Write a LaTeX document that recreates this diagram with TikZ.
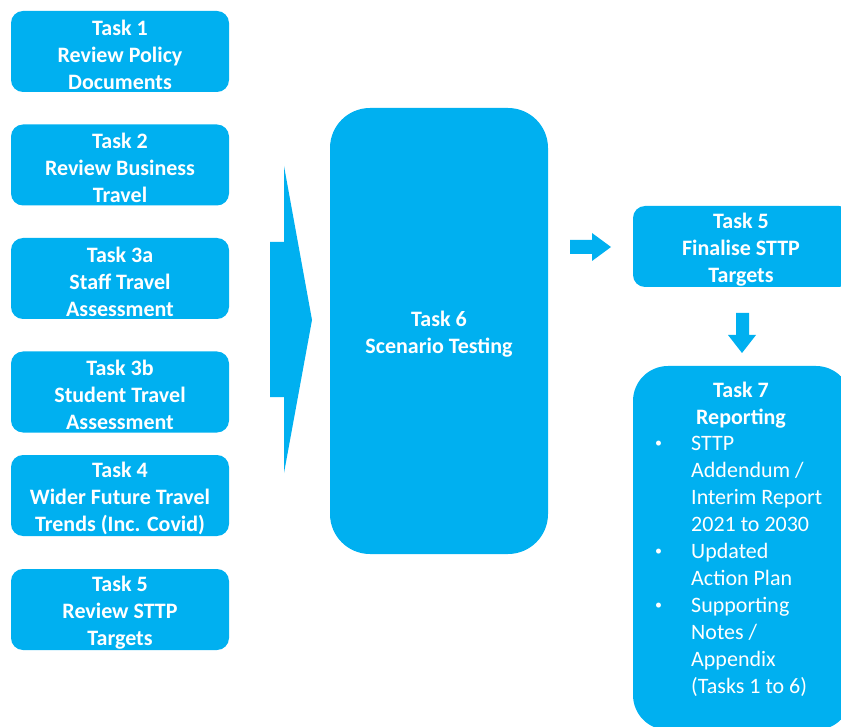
\documentclass[tikz,border=0pt]{standalone}
\usepackage{fontspec}
\setmainfont{Carlito}
\definecolor{tb}{HTML}{00B0F0}
\newcommand{\bul}{\makebox[36pt][l]{\raisebox{3.4pt}{\fontsize{14}{14}\selectfont\textbullet}}}
\newcommand{\ind}{\makebox[36pt]{}}
\begin{document}
\begin{tikzpicture}[x=1pt,y=-1pt,
  box/.style={fill=tb, inner sep=0pt},
  task/.style={box, rounded corners=12pt, minimum width=218pt, minimum height=81pt},
  label/.style={inner sep=0pt, align=center, text=white, yshift=-3pt,
    font=\fontsize{22}{27}\selectfont\bfseries},
  blockarrow/.style={fill=tb}]
\useasboundingbox (0,0) rectangle (841,727);
\node[task] (t1) at (120,51.5) {};
\node[label] (t1t) at (t1) {Task 1\\Review Policy\\Documents};
\node[task] (t2) at (120,165) {};
\node[label] (t2t) at (t2) {Task 2\\Review Business\\Travel};
\node[task] (t3a) at (120,278.5) {};
\node[label] (t3at) at (t3a) {Task 3a\\Staff Travel\\Assessment};
\node[task] (t3b) at (120,392) {};
\node[label] (t3bt) at (t3b) {Task 3b\\Student Travel\\Assessment};
\node[task] (t4) at (120,495.5) {};
\node[label] (t4t) at (t4) {Task 4\\Wider Future Travel\\Trends (Inc. Covid)};
\node[task] (t5) at (120,609.5) {};
\node[label] (t5t) at (t5) {Task 5\\Review STTP\\Targets};
\node[box, rounded corners=40pt, minimum width=218pt, minimum height=446pt] (t6) at (439,331) {};
\node[label] (t6t) at (t6) {Task 6\\Scenario Testing};
\node[task] (t5f) at (742,246.5) {};
\node[label] (t5ft) at ([xshift=-1pt]t5f.center) {Task 5\\Finalise STTP\\Targets};
\node[box, rounded corners=35pt, minimum width=218pt, minimum height=364pt] (t7) at (742,548) {};
\node[label] (t7title) at (741,402) {Task 7\\Reporting};
\node[label, align=left, anchor=west, font=\fontsize{22}{27}\selectfont] (t7list) at (655,563.5)
  {\bul STTP\\ \ind Addendum /\\ \ind Interim Report\\ \ind 2021 to 2030\\
   \bul Updated\\ \ind Action Plan\\ \bul Supporting\\ \ind Notes /\\ \ind Appendix\\ \ind (Tasks 1 to 6)};
% big block arrow
\fill[blockarrow] (270,242) -- (284,242) -- (284,166) -- (312,320) -- (284,473) -- (284,397) -- (270,397) -- cycle;
% right arrow
\fill[blockarrow] (570,240) -- (592,240) -- (592,233) -- (611,247) -- (592,261) -- (592,254) -- (570,254) -- cycle;
% down arrow
\fill[blockarrow] (736,313) -- (749,313) -- (749,335) -- (756,335) -- (742,353) -- (728,335) -- (736,335) -- cycle;
\end{tikzpicture}
\end{document}
